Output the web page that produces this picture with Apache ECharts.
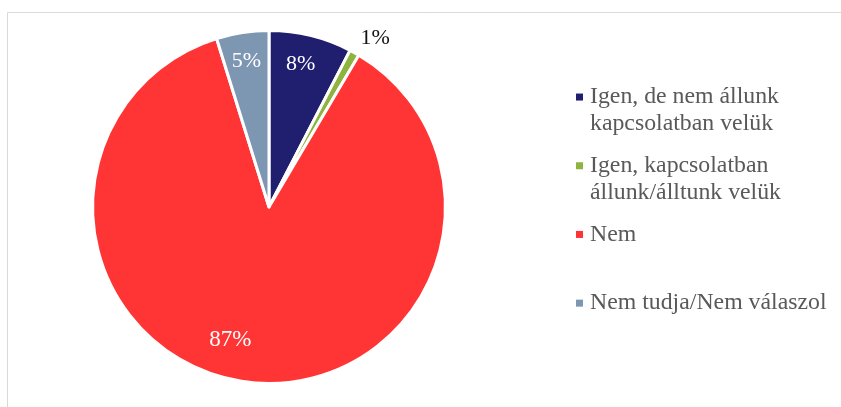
<!DOCTYPE html>
<html>
<head>
<meta charset="utf-8">
<script src="https://cdn.jsdelivr.net/npm/echarts@6/dist/echarts.min.js"></script>
<style>
  html, body { margin: 0; padding: 0; background: #ffffff; }
  #chart { width: 841px; height: 407px; }
</style>
</head>
<body>
<div id="chart"></div>
<script>
// Answer categories and their shares (%)
const categories = [
  'Igen, de nem állunk kapcsolatban velük',
  'Igen, kapcsolatban állunk/álltunk velük',
  'Nem',
  'Nem tudja/Nem válaszol'
];
const shares = [7.6, 0.9, 86.7, 4.8];

// Legend text, wrapped onto lines
const legendText = [
  'Igen, de nem állunk\nkapcsolatban velük',
  'Igen, kapcsolatban\nállunk/álltunk velük',
  'Nem',
  'Nem tudja/Nem válaszol'
];

const colors = ['#201E6E', '#8DB43F', '#FF3535', '#7D97B2'];
const labelColors = ['#ffffff', '#111111', '#ffffff', '#ffffff'];
const labelSizes = [22, 22, 23, 22];
// Shift of each value label from its default spot inside the slice
const labelShift = [[10, -54], [62, -89], [-28, 42], [-9, -56]];

const FONT = '"Liberation Serif", "Times New Roman", serif';

const chart = echarts.init(document.getElementById('chart'), null, { renderer: 'canvas' });

chart.setOption({
  animation: false,
  backgroundColor: '#ffffff',
  color: colors,
  graphic: [{
    type: 'rect',
    silent: true,
    shape: { x: 7.5, y: 12.5, width: 900, height: 500 },
    style: { fill: 'none', stroke: '#d9d9d9', lineWidth: 1 }
  }],
  legend: {
    orient: 'vertical',
    left: 576,
    top: 57,
    padding: 0,
    itemWidth: 7,
    itemHeight: 7,
    itemGap: -11.4,
    icon: 'rect',
    selectedMode: false,
    itemStyle: { borderWidth: 0 },
    data: categories,
    formatter: function (name) {
      const t = legendText[categories.indexOf(name)];
      return '\n' + t + (t.indexOf('\n') < 0 ? '\n' : '');
    },
    textStyle: {
      fontFamily: FONT,
      fontSize: 23.8,
      lineHeight: 26.7,
      color: '#595959',
      padding: [0, 0, 0, 2]
    }
  },
  series: [{
    type: 'pie',
    center: [269, 207],
    radius: [0, 176.4],
    startAngle: 90,
    clockwise: true,
    avoidLabelOverlap: false,
    itemStyle: { borderColor: '#ffffff', borderWidth: 3 },
    emphasis: { disabled: true },
    labelLine: { show: false },
    label: {
      show: true,
      position: 'inside',
      fontFamily: FONT,
      fontSize: 22,
      formatter: function (p) { return Math.round(p.percent) + '%'; }
    },
    labelLayout: function (p) {
      const s = labelShift[p.dataIndex];
      return { dx: s[0], dy: s[1] };
    },
    data: categories.map(function (name, i) {
      return {
        name: name,
        value: shares[i],
        label: { color: labelColors[i], fontSize: labelSizes[i] }
      };
    })
  }]
});
</script>
</body>
</html>
